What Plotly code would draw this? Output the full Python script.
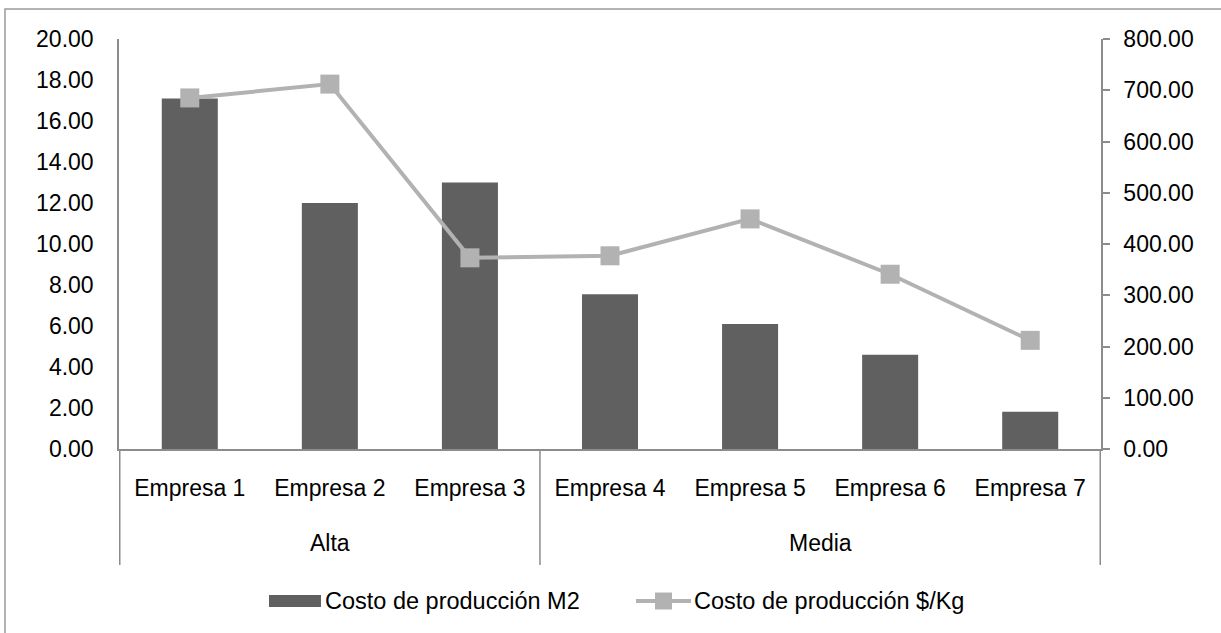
import plotly.graph_objects as go

# Data
empresas = ["Empresa 1", "Empresa 2", "Empresa 3", "Empresa 4", "Empresa 5", "Empresa 6", "Empresa 7"]
grupos = ["Alta", "Media"]
grupo_centros = [1, 4.5]
grupo_limites = [-0.5, 2.5, 6.5]
costo_m2 = [17.1, 12.0, 13.0, 7.55, 6.1, 4.6, 1.82]
costo_kg = [685, 712, 373, 377, 449, 341, 212]

W, H = 1221, 633
L, R, T, B = 119, 120, 39, 184
PW, PH = W - L - R, H - T - B

def px(x):
    return (x - L) / PW

def py(y):
    return (H - B - y) / PH

BAR = "#606060"
LINE = "#b2b2b2"
AXIS = "#8c8c8c"
FONT = "Arial, Liberation Sans, sans-serif"
FS = 23

fig = go.Figure()
fig.add_trace(go.Bar(
    x=empresas, y=costo_m2, name="Costo de producción M2",
    marker=dict(color=BAR, line=dict(width=0)), showlegend=False,
))
fig.add_trace(go.Scatter(
    x=empresas, y=costo_kg, name="Costo de producción $/Kg", yaxis="y2",
    mode="lines+markers", line=dict(color=LINE, width=4),
    marker=dict(symbol="square", size=19, color=LINE), showlegend=False,
))

shapes = []
# category group dividers under the axis
for xv in grupo_limites:
    shapes.append(dict(type="line", xref="x", yref="paper", x0=xv, x1=xv,
                       y0=0, y1=py(565), line=dict(color=AXIS, width=1.5)))
# outer frame
shapes.append(dict(type="rect", xref="paper", yref="paper",
                   x0=px(5), x1=px(1240), y0=py(9), y1=py(650),
                   line=dict(color="#9a9a9a", width=1.5)))
# legend swatches
shapes.append(dict(type="rect", xref="paper", yref="paper",
                   x0=px(269), x1=px(321), y0=py(607), y1=py(595),
                   fillcolor=BAR, line=dict(width=0)))
shapes.append(dict(type="line", xref="paper", yref="paper",
                   x0=px(636), x1=px(691), y0=py(601), y1=py(601),
                   line=dict(color=LINE, width=4)))
shapes.append(dict(type="rect", xref="paper", yref="paper",
                   x0=px(655), x1=px(672), y0=py(609.5), y1=py(592.5),
                   fillcolor=LINE, line=dict(width=0)))

annotations = []
for g, c in zip(grupos, grupo_centros):
    annotations.append(dict(text=g, x=c, xref="x", y=py(543), yref="paper",
                            showarrow=False, xanchor="center", yanchor="middle",
                            font=dict(size=FS, color="black", family=FONT)))
annotations.append(dict(text="Costo de producción M2", x=px(323), y=py(601),
                        xref="paper", yref="paper", showarrow=False,
                        xanchor="left", yanchor="middle",
                        font=dict(size=23.5, color="black", family=FONT)))
annotations.append(dict(text="Costo de producción $/Kg", x=px(692), y=py(601),
                        xref="paper", yref="paper", showarrow=False,
                        xanchor="left", yanchor="middle",
                        font=dict(size=23.5, color="black", family=FONT)))

fig.update_layout(
    width=W, height=H,
    margin=dict(l=L, r=R, t=T, b=B, autoexpand=False),
    paper_bgcolor="white", plot_bgcolor="white",
    font=dict(family=FONT, size=FS, color="black"),
    bargap=0.6,
    xaxis=dict(type="category", showline=True, linecolor=AXIS, linewidth=1.5,
               showgrid=False, ticks="", ticklabelstandoff=18,
               tickfont=dict(size=FS)),
    yaxis=dict(range=[0, 20], dtick=2, tickformat=".2f", showline=True,
               linecolor=AXIS, linewidth=1.5, showgrid=False, zeroline=False,
               ticks="", ticklabelstandoff=19, tickfont=dict(size=FS)),
    yaxis2=dict(range=[0, 800], dtick=100, tickformat=".2f", overlaying="y",
                side="right", showline=True, linecolor=AXIS, linewidth=1.5,
                showgrid=False, zeroline=False, ticks="outside", ticklen=7,
                tickcolor=AXIS, tickwidth=1.5, ticklabelstandoff=9,
                tickfont=dict(size=FS)),
    shapes=shapes, annotations=annotations,
)

fig.write_html("out.html")
